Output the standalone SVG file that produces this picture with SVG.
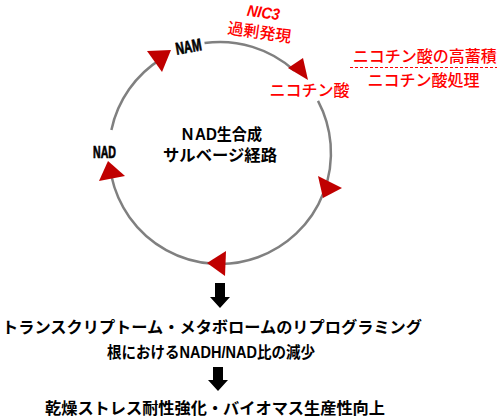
<svg xmlns="http://www.w3.org/2000/svg" width="500" height="418" viewBox="0 0 500 418">
<style>
.ring{fill:none;stroke:#808080;stroke-width:2.5}
.ah{fill:#c00000}
.blk{fill:#000}
.t{font-family:'Liberation Sans','Noto Sans CJK JP',sans-serif;font-size:16px}
.b{font-weight:bold}
.red{fill:#ff0000;font-weight:500}
.lbl{font-family:'Liberation Sans',sans-serif;font-weight:bold;font-size:17px}
.thick{stroke:#000;stroke-width:0.7}
</style>
<rect width="500" height="418" fill="#fff"/>
<g id="connectors">
 <path class="ring" d="M111.4,129.9 A111,111 0 0 1 161.2,58.9"/>
 <path class="ring" d="M204.5,43.1 A111,111 0 0 1 294.3,70.5"/>
 <path class="ring" d="M318,100.9 A111,111 0 1 1 111.4,176.1"/>
 <polygon class="ah" points="147,51 171,50 162,72"/>
 <polygon class="ah" points="288,68 303,58 308,80"/>
 <polygon class="ah" points="318,176 342,188 323,198"/>
 <polygon class="ah" points="207,263 226,251 225,276"/>
 <polygon class="ah" points="108,161 125,176 99,181"/>
 <polygon class="blk" points="215,283 225,283 225,297 230,297 220,308 210,297 215,297"/>
 <polygon class="blk" points="213,367 223,367 223,380 228,380 218,391 208,380 213,380"/>
</g>
<g id="nam">
 <text class="lbl thick" x="188.5" y="52.5" text-anchor="middle" transform="rotate(-10 188.5 46.5)" textLength="26" lengthAdjust="spacingAndGlyphs">NAM</text>
</g>
<g id="nad">
 <text class="lbl thick" x="104.5" y="157.5" text-anchor="middle" textLength="23" lengthAdjust="spacingAndGlyphs">NAD</text>
</g>
<g id="nic3">
 <text class="lbl red" x="263.5" y="18" text-anchor="middle" font-style="italic" style="font-size:16px;font-weight:bold" transform="rotate(8 263.5 12.5)" textLength="33" lengthAdjust="spacingAndGlyphs">NIC3</text>
 <text class="t red" x="259.5" y="38" text-anchor="middle" transform="rotate(8 259.5 32)">過剰発現</text>
</g>
<g id="nicotinic">
 <text class="t red" x="309.5" y="96" text-anchor="middle">ニコチン酸</text>
</g>
<g id="treatment">
 <text class="t red" x="424.7" y="61.5" text-anchor="middle">ニコチン酸の高蓄積</text>
 <line x1="350" y1="67.5" x2="497" y2="67.5" stroke="#ff0000" stroke-width="1" stroke-dasharray="3,2"/>
 <text class="t red" x="423.5" y="85.5" text-anchor="middle">ニコチン酸処理</text>
</g>
<g id="center">
 <text class="t b" x="221" y="140" text-anchor="middle" textLength="82" lengthAdjust="spacingAndGlyphs">ＮAD生合成</text>
 <text class="t b" x="220" y="161" text-anchor="middle" textLength="114" lengthAdjust="spacingAndGlyphs">サルベージ経路</text>
</g>
<g id="reprogramming">
 <text class="t b" x="2" y="333" textLength="420" lengthAdjust="spacingAndGlyphs">トランスクリプトーム・メタボロームのリプログラミング</text>
</g>
<g id="ratio">
 <text class="t b" x="211" y="358" text-anchor="middle" textLength="208" lengthAdjust="spacingAndGlyphs">根におけるNADH/NAD比の減少</text>
</g>
<g id="outcome">
 <text class="t b" x="215" y="414" text-anchor="middle" textLength="340" lengthAdjust="spacingAndGlyphs">乾燥ストレス耐性強化・バイオマス生産性向上</text>
</g>
</svg>
